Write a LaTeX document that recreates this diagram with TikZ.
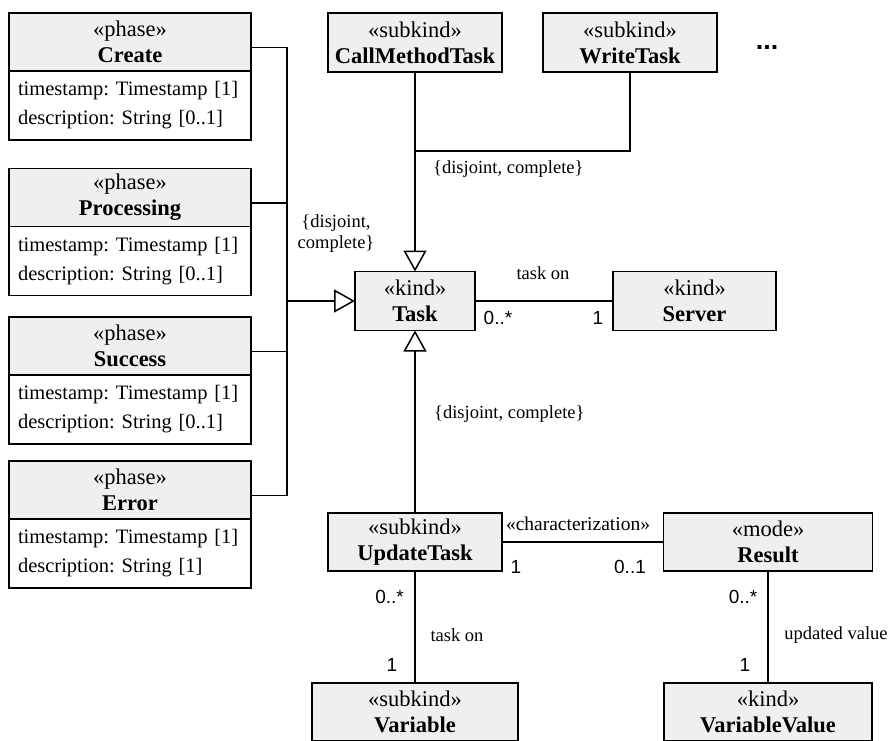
\documentclass[tikz,border=0pt]{standalone}
\usepackage{fontspec}
\setmainfont{Liberation Serif}
\newfontfamily\multfont{Liberation Sans}
\usetikzlibrary{arrows.meta}
\definecolor{hdrfill}{RGB}{239,239,239}
\frenchspacing
\begin{document}
\begin{tikzpicture}[x=1pt,y=-1pt,
  hdr/.style={draw, line width=1.9pt, fill=hdrfill, inner sep=0pt, outer sep=0pt,
    minimum height=58pt, align=center, font=\fontsize{22.5}{26}\selectfont},
  attrs/.style={draw, line width=1.9pt, fill=white, anchor=north, inner xsep=9pt,
    inner ysep=0pt, outer sep=0pt, text width=224pt, minimum height=69pt,
    align=left, font=\fontsize{20.5}{29}\selectfont},
  conn/.style={line width=1.5pt},
  gen/.style={conn, -{Triangle[open, length=21pt, width=23pt]}},
  lbl/.style={font=\fontsize{18.5}{21}\selectfont, inner sep=0pt},
  mult/.style={font=\multfont\fontsize{19}{21}\selectfont, inner sep=0pt}]
\useasboundingbox (0,0) rectangle (890,740);

% phases of a task
\node[hdr, minimum width=242pt] (create) at (130,42) {«phase»\\\textbf{Create}};
\node[attrs] (createAttr) at (create.south) {timestamp: Timestamp [1]\\description: String [0..1]};
\node[hdr, minimum width=242pt] (processing) at (130,197.5) {«phase»\\\textbf{Processing}};
\node[attrs] (processingAttr) at (processing.south) {timestamp: Timestamp [1]\\description: String [0..1]};
\node[hdr, minimum width=242pt] (success) at (130,346) {«phase»\\\textbf{Success}};
\node[attrs] (successAttr) at (success.south) {timestamp: Timestamp [1]\\description: String [0..1]};
\node[hdr, minimum width=242pt] (error) at (130,490) {«phase»\\\textbf{Error}};
\node[attrs] (errorAttr) at (error.south) {timestamp: Timestamp [1]\\description: String [1]};

% task hierarchy
\node[hdr, minimum width=174pt, minimum height=59pt] (callMethod) at (415,42.5) {«subkind»\\\textbf{CallMethodTask}};
\node[hdr, minimum width=174pt, minimum height=59pt] (writeTask) at (630,42.5) {«subkind»\\\textbf{WriteTask}};
\node[font=\multfont\bfseries\fontsize{27}{29}\selectfont, inner sep=0pt] (more) at (767,47) {...};
\node[hdr, minimum width=120pt, minimum height=59pt] (task) at (415,301) {«kind»\\\textbf{Task}};
\node[hdr, minimum width=163pt, minimum height=59pt] (server) at (694.5,301) {«kind»\\\textbf{Server}};
\node[hdr, minimum width=174pt] (updateTask) at (415,542) {«subkind»\\\textbf{UpdateTask}};
\node[hdr, minimum width=209pt] (result) at (768,542) {«mode»\\\textbf{Result}};
\node[hdr, minimum width=206pt] (variable) at (415,712) {«subkind»\\\textbf{Variable}};
\node[hdr, minimum width=208pt] (variableValue) at (768,712) {«kind»\\\textbf{VariableValue}};

% generalization of the phases
\coordinate (bus) at (287,301);
\draw[conn] ([yshift=-5.5pt]create.east) -| (bus);
\draw[conn] ([yshift=-5.5pt]processing.east) -| (bus);
\draw[conn] ([yshift=-5.5pt]success.east) -| (bus);
\draw[conn] ([yshift=-5.5pt]error.east) -| (bus);
\draw[gen] (bus) -- (task.west);

% generalization of the subkinds
\coordinate (join) at (415,151);
\draw[conn] (writeTask.south) |- (join);
\draw[gen] (callMethod.south) -- (task.north);
\draw[gen] (updateTask.north) -- (task.south);

% associations
\draw[conn] (task.east) -- (server.west);
\draw[conn] (updateTask.east) -- (result.west);
\draw[conn] (updateTask.south) -- (variable.north);
\draw[conn] (result.south) -- (variableValue.north);

% labels
\node[lbl, align=center] (genLeft) at (336,234) {\{disjoint,\\complete\}};
\node[lbl, anchor=west] (genTop) at (433,169) {\{disjoint, complete\}};
\node[lbl, anchor=west] (genBottom) at (434,414) {\{disjoint, complete\}};
\node[lbl] (taskOnServer) at (543,273) {task on};
\node[mult] (mTask) at (498,318) {0..*};
\node[mult] (mServer) at (598,318) {1};
\node[lbl, font=\fontsize{19.5}{21}\selectfont] (charLbl) at (578,524) {«characterization»};
\node[mult] (mUpdate) at (516,567) {1};
\node[mult] (mResult) at (630,567) {0..1};
\node[mult, anchor=east] (mUpdateVar) at (404,597) {0..*};
\node[lbl] (taskOnVar) at (457,635) {task on};
\node[mult] (mVar) at (392,665) {1};
\node[mult] (mResultVal) at (743,597) {0..*};
\node[lbl] (updatedLbl) at (836,635) {updated value};
\node[mult] (mVal) at (745,665) {1};
\end{tikzpicture}
\end{document}
